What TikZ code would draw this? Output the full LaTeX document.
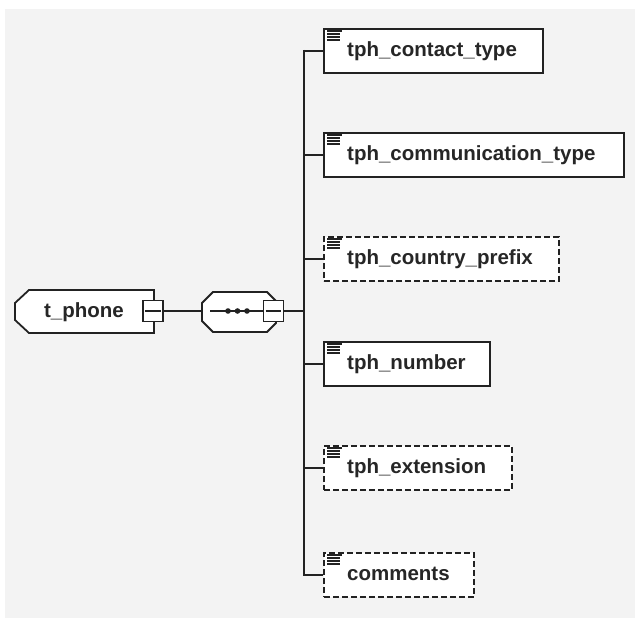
\documentclass[tikz,border=0pt]{standalone}
\usepackage{fontspec}
\setmainfont{Liberation Sans}
\definecolor{bgc}{HTML}{F3F3F3}
\definecolor{ink}{HTML}{222222}
\begin{document}
\begin{tikzpicture}[x=1pt,y=-1pt,
  elem/.style={draw=ink,line width=1.8pt,fill=white,rectangle,anchor=north west,inner sep=0pt},
  opt/.style={elem,dash pattern=on 6pt off 3pt},
  lbl/.style={anchor=base west,inner sep=0pt,font=\fontsize{20.5}{24}\selectfont\bfseries,text=black!85},
  minusbox/.style={draw=ink,line width=1.6pt,fill=white,rectangle,minimum width=20pt,minimum height=21pt,inner sep=0pt},
  conn/.style={draw=ink,line width=2pt},
  icon/.style={draw=ink,line width=1.1pt}]
\useasboundingbox (0,0) rectangle (635,618);
\fill[white] (0,0) rectangle (635,618);
\fill[bgc] (5,9) rectangle (635,618);
% t_phone
\draw[elem] (29,290) -- (154,290) -- (154,333) -- (29,333) -- (15,320) -- (15,303) -- cycle;
\node[lbl,anchor=base] (tp) at (84,317) {t\_phone};
\node[minusbox] (m1) at (153,311) {};
\draw[ink,line width=2pt] ([xshift=3pt]m1.west) -- ([xshift=-3pt]m1.east);
% sequence
\draw[elem] (213,292) -- (267,292) -- (276,301) -- (276,323) -- (267,332) -- (213,332) -- (202,321) -- (202,303) -- cycle;
\coordinate (sqw) at (202,311);
\node[minusbox] (m2) at (273.5,311) {};
\draw[ink,line width=2pt] ([xshift=3pt]m2.west) -- ([xshift=-3pt]m2.east);
\coordinate (sqin) at (210,311);
\draw[conn] (sqin) -- (m2.west);
\fill[ink] (228,311) circle (2.8) (237.5,311) circle (2.8) (247,311) circle (2.8);
\draw[conn] (m1.east) -- (sqw);
% elements
\node[elem,minimum width=219pt,minimum height=44pt] (e1) at (323,28) {};
\node[elem,minimum width=300pt,minimum height=44pt] (e2) at (323,132) {};
\node[opt,minimum width=235pt,minimum height=44pt] (e3) at (323,236) {};
\node[elem,minimum width=166pt,minimum height=44pt] (e4) at (323,341) {};
\node[opt,minimum width=188pt,minimum height=44pt] (e5) at (323,445) {};
\node[opt,minimum width=150pt,minimum height=44pt] (e6) at (323,552) {};
\foreach \e/\t in {e1/tph\_contact\_type,e2/tph\_communication\_type,e3/tph\_country\_prefix,e4/tph\_number,e5/tph\_extension,e6/comments}{
  \node[lbl] (\e t) at ([xshift=24pt,yshift=-5.5pt]\e.west) {\t};
  \draw[icon] ([xshift=4pt,yshift=-3pt]\e.north west) -- ++(15,0)
              ([xshift=4pt,yshift=-6pt]\e.north west) -- ++(13,0)
              ([xshift=4pt,yshift=-9pt]\e.north west) -- ++(13,0)
              ([xshift=4pt,yshift=-12pt]\e.north west) -- ++(13,0);
}
% trunk
\coordinate (tr) at (304,0);
\draw[conn] (m2.east) -- (m2.east -| tr);
\draw[conn] ([yshift=1pt]e1.west -| tr) -- ([yshift=-1pt]e6.west -| tr);
\foreach \e in {e1,e2,e3,e4,e5,e6}{
  \draw[conn] (\e.west -| tr) -- (\e.west);
}
\end{tikzpicture}
\end{document}
